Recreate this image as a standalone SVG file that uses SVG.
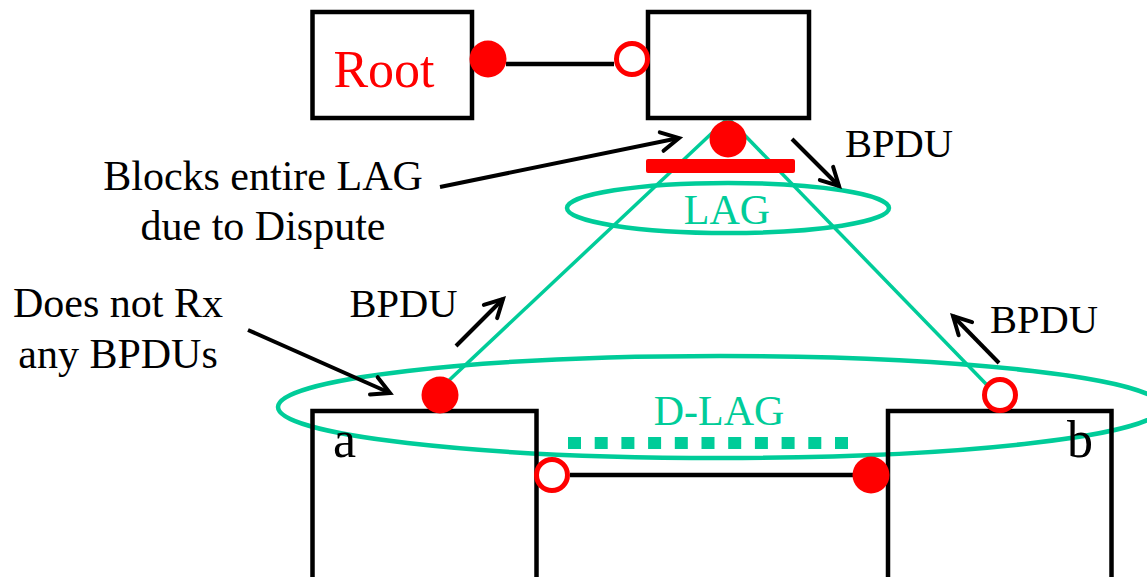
<svg xmlns="http://www.w3.org/2000/svg" width="1147" height="577" viewBox="0 0 1147 577">
<style>
.box{fill:none;stroke:#000;stroke-width:4.5}
.lbl{font-family:"Liberation Serif","Times New Roman",serif;fill:#000}
.green{fill:#00CC99}
.red{fill:#FF0000}
.link{stroke:#000;stroke-width:4.5}
.glink{stroke:#00CC99;stroke-width:3.5;fill:none}
.ell{fill:none;stroke:#00CC99;stroke-width:4.5}
.pf{fill:#FF0000}
.po{fill:#fff;stroke:#FF0000;stroke-width:5}
.arr{stroke:#000;stroke-width:4;fill:none;marker-end:url(#v)}
</style>
<defs>
<marker id="v" markerUnits="userSpaceOnUse" markerWidth="26" markerHeight="26" viewBox="0 0 26 26" refX="21" refY="13" orient="auto" overflow="visible">
<path d="M3.3,3.6 L21,13 L3.3,22.4" fill="none" stroke="#000" stroke-width="4" stroke-linecap="round" stroke-linejoin="miter"/>
</marker>
</defs>
<rect width="1147" height="577" fill="#fff"/>

<g id="connectors">
<line class="link" x1="506" y1="64" x2="614" y2="64"/>
<line class="link" x1="570" y1="475" x2="853" y2="475"/>
<line class="glink" x1="728" y1="118" x2="443" y2="386"/>
<line class="glink" x1="728" y1="118" x2="987" y2="385"/>
<line x1="568" y1="443" x2="848" y2="443" stroke="#00CC99" stroke-width="12" stroke-dasharray="13 13.7"/>
</g>

<g id="lag"><ellipse class="ell" cx="728" cy="208" rx="161" ry="25"/><text class="lbl green" x="727" y="224" font-size="42" text-anchor="middle">LAG</text></g>
<g id="dlag"><ellipse class="ell" cx="720" cy="407" rx="442" ry="51"/><text class="lbl green" x="719" y="425" font-size="42" text-anchor="middle">D-LAG</text></g>

<g id="switch-a"><rect class="box" x="312.5" y="411" width="224" height="200"/><text class="lbl" x="333" y="457" font-size="52">a</text></g>
<g id="switch-b"><rect class="box" x="888" y="411" width="223.5" height="200"/><text class="lbl" x="1067" y="457" font-size="52">b</text></g>
<g id="root"><rect class="box" x="312.5" y="12" width="159.5" height="106"/><text class="lbl red" x="384" y="87" font-size="52" text-anchor="middle">Root</text></g>
<g id="switch-top"><rect class="box" x="648" y="12" width="161" height="106"/></g>

<g id="ports">
<rect x="646" y="159" width="149" height="14" rx="2" fill="#FF0000"/>
<circle class="pf" cx="488" cy="59" r="18.5"/>
<circle class="po" cx="632" cy="59" r="15.5"/>
<circle class="pf" cx="728" cy="139" r="18.5"/>
<circle class="pf" cx="440" cy="395" r="18.5"/>
<circle class="po" cx="1000" cy="395" r="15.5"/>
<circle class="po" cx="552" cy="475" r="15.5"/>
<circle class="pf" cx="871" cy="475" r="18.5"/>
</g>

<g id="annotations">
<line class="arr" x1="440" y1="187" x2="679" y2="138"/>
<line class="arr" x1="248" y1="330" x2="390" y2="393"/>
<line class="arr" x1="456" y1="346" x2="503" y2="299"/>
<line class="arr" x1="792" y1="139" x2="839" y2="186"/>
<line class="arr" x1="999" y1="363" x2="953" y2="316"/>
<text class="lbl" x="263" y="190" font-size="42" text-anchor="middle">Blocks entire LAG</text>
<text class="lbl" x="263" y="240" font-size="42" text-anchor="middle">due to Dispute</text>
<text class="lbl" x="118" y="317" font-size="42" text-anchor="middle">Does not Rx</text>
<text class="lbl" x="118" y="368" font-size="42" text-anchor="middle">any BPDUs</text>
<text class="lbl" x="403.5" y="317" font-size="40.5" text-anchor="middle">BPDU</text>
<text class="lbl" x="899" y="157" font-size="40.5" text-anchor="middle">BPDU</text>
<text class="lbl" x="1044" y="333" font-size="40.5" text-anchor="middle">BPDU</text>
</g>
</svg>
